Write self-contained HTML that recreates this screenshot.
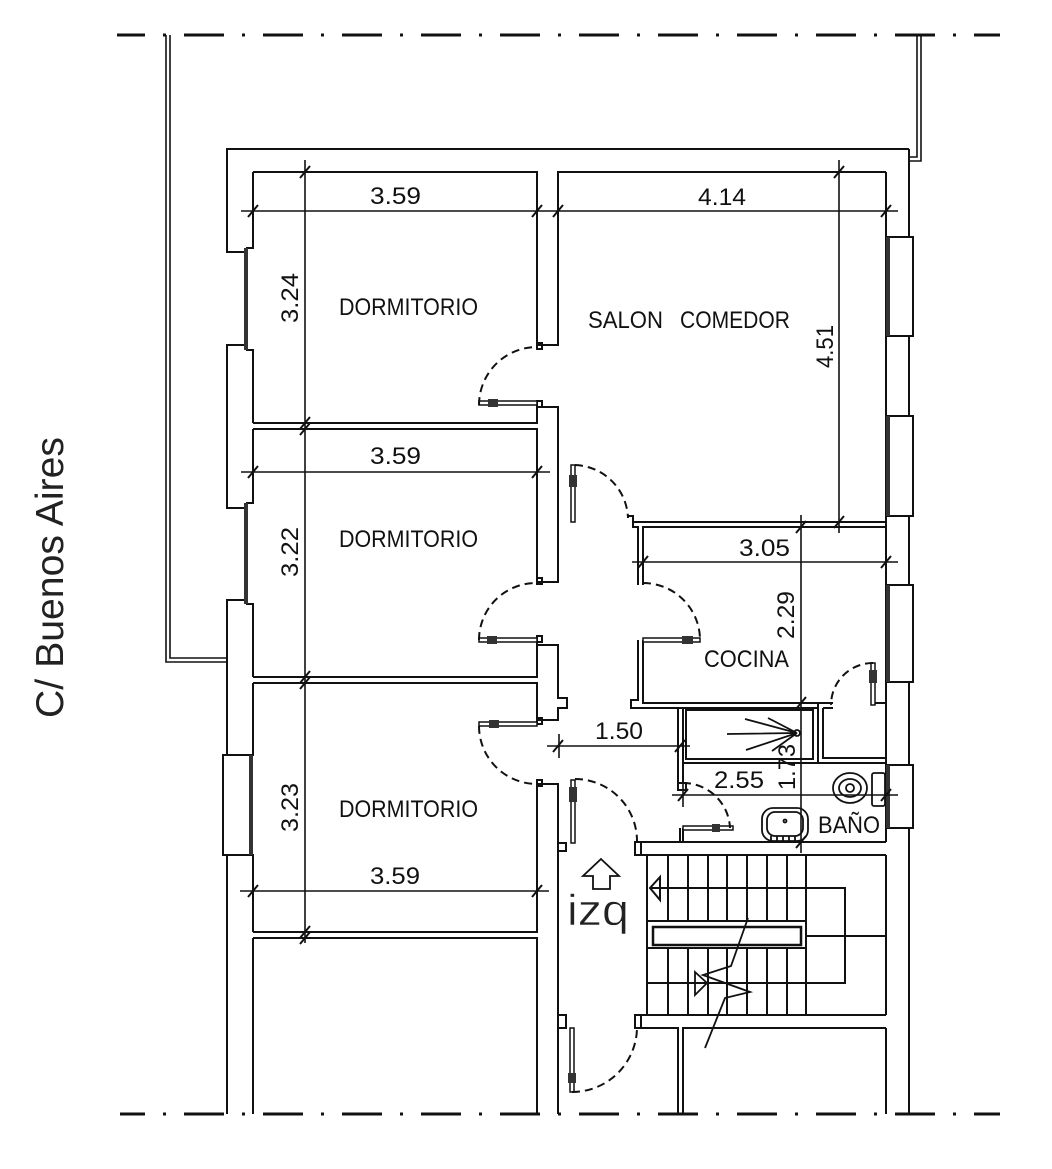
<!DOCTYPE html>
<html><head><meta charset="utf-8"><style>
html,body{margin:0;padding:0;background:#fff;}
svg{display:block;}
text{font-family:"Liberation Sans",Arial,sans-serif;fill:#111;}
</style></head><body>
<svg width="1052" height="1169" viewBox="0 0 1052 1169" xmlns="http://www.w3.org/2000/svg">
<rect width="1052" height="1169" fill="#fff"/>

<g stroke="#111" stroke-width="3" fill="none">
<line x1="117" y1="35" x2="1000" y2="35" stroke-dasharray="40 18 3 18" stroke-dashoffset="12"/>
<line x1="120" y1="1114" x2="1000" y2="1114" stroke-dasharray="40 18 3 18" stroke-dashoffset="15"/>
</g>

<g stroke="#111" stroke-width="1.6" fill="none">
<path d="M166,35 V662 H227 M170,35 V658 H227"/>
<path d="M921,35 V161 H909 M917,35 V157 H909"/>
</g>

<g stroke="#111" stroke-width="2" fill="none" stroke-linejoin="miter">
<path d="M244,252 H227 V149 H909"/>
<path d="M244,345 H227 V508 H244"/>
<path d="M244,600 H227 V755"/>
<path d="M227,855 V1114"/>
<rect x="223" y="755" width="27" height="100"/>
<path d="M909,149 V237 H913 V336 H909 V416 H913 V516 H909 V585 H913 V682 H909 V765 H913 V828 H909 V1114"/>
<path d="M886,237 H913 M886,336 H913 M886,416 H913 M886,516 H913 M886,585 H913 M886,682 H913 M886,765 H913 M886,828 H913"/>
<path d="M253,172 V248 H246 M246,350 H253 V423 M253,429 V503 H246 M246,604 H253 V677 M253,683 V755 H250 M250,855 H253 V932 M253,938 V1114"/>
<path d="M886,172 V842 M886,855 V1015 M886,1028 V1114"/>
<path d="M253,172 H537 V345 H558 V172 H886"/>
<path d="M537,407 V423 H253"/>
<path d="M537,407 H558 V582 H537"/>
<path d="M253,429 H537 V583"/>
<path d="M537,640 V677 H253"/>
<path d="M537,645 H558 V698 H567 V708 H558 V720 H537"/>
<path d="M253,683 H537 V722"/>
<path d="M537,784 V932 H253"/>
<path d="M537,784 H558 V1114"/>
<path d="M253,938 H537 V1114"/>
<path d="M628,516 H633 V522 H886"/>
<path d="M633,522 V527 H638 V585"/>
<path d="M643,585 V527 H886"/>
<path d="M638,640 V700 H631 V708 H678 V783"/>
<path d="M643,640 V703 H833"/>
<path d="M873,703 H886"/>
<path d="M683,708 V783"/>
<path d="M678,708 H818 V763"/>
<path d="M818,703 V708"/>
<rect x="686" y="710" width="127" height="49"/>
<path d="M823,708 V758 H886"/>
<path d="M823,708 H833"/>
<path d="M683,763 H886"/>
<rect x="678" y="783" width="8" height="7"/>
<path d="M680,828 V842 M683,828 V842"/>
<path d="M637,842 H886"/>
<path d="M640,855 H886"/>
<path d="M647,855 V1015"/>
<path d="M640,1015 H886"/>
<path d="M640,1028 H678 V1114"/>
<path d="M683,1114 V1028 H886"/>
<rect x="635" y="842" width="6" height="13"/>
<rect x="635" y="1015" width="6" height="13"/>
<rect x="558" y="1015" width="8" height="13"/>
<rect x="558" y="843" width="8" height="8"/>
<rect x="537" y="343" width="5" height="6"/>
<rect x="537" y="401" width="5" height="6"/>
<rect x="537" y="578" width="5" height="6"/>
<rect x="537" y="636" width="5" height="6"/>
<rect x="537" y="718" width="5" height="6"/>
<rect x="537" y="780" width="5" height="6"/>
</g>

<g fill="#333">
<rect x="244" y="248" width="4" height="102"/>
<rect x="244" y="503" width="4" height="101"/>
<rect x="249" y="755" width="4" height="100"/>
<rect x="886" y="237" width="4" height="99"/>
<rect x="886" y="416" width="4" height="100"/>
<rect x="886" y="585" width="4" height="97"/>
<rect x="886" y="765" width="4" height="63"/>
</g>

<g stroke="#111" stroke-width="2" fill="none">
<path d="M668,855 V921 M688,855 V921 M708,855 V921 M727,855 V921 M747,855 V921 M767,855 V921 M787,855 V921"/>
<path d="M668,948 V1015 M688,948 V1015 M708,948 V1015 M727,948 V1015 M747,948 V1015 M767,948 V1015 M787,948 V1015"/>
<path d="M806,855 V1015"/>
<path d="M650,888 H845 V983 H647"/>
<path d="M647,921 H806 M647,948 H806 M806,936 H886"/>
<rect x="653" y="927" width="148" height="18" stroke-width="2.5"/>
<path d="M660,877 L650,888 L660,900 Z"/>
<path d="M748,918 L731,966 L703,975 L750,992 L725,998 L705,1048" stroke-width="1.8"/>
<path d="M695,972 L695,995 L707,983 Z" stroke-width="1.8"/>
</g>

<g stroke="#111" stroke-width="1.5" fill="#fff">
<rect x="479" y="401" width="58" height="4"/>
<rect x="479" y="638" width="58" height="4"/>
<rect x="479" y="722" width="58" height="4"/>
<rect x="571" y="465" width="4" height="57"/>
<rect x="643" y="638" width="57" height="4"/>
<rect x="871" y="663" width="4" height="42"/>
<rect x="683" y="826" width="50" height="4"/>
<rect x="571" y="780" width="4" height="63"/>
<rect x="570" y="1028" width="4" height="64"/>
</g>
<g fill="#333">
<rect x="488" y="399" width="10" height="8"/>
<rect x="487" y="636" width="10" height="8"/>
<rect x="489" y="720" width="10" height="8"/>
<rect x="569" y="475" width="8" height="12"/>
<rect x="682" y="636" width="11" height="8"/>
<rect x="869" y="670" width="8" height="13"/>
<rect x="712" y="824" width="8" height="8"/>
<rect x="569" y="787" width="8" height="15"/>
<rect x="568" y="1073" width="8" height="10"/>
</g>

<g stroke="#111" stroke-width="2" fill="none" stroke-dasharray="8 5">
<path d="M479,405 A58,58 0 0 1 537,347"/>
<path d="M479,640 A57,57 0 0 1 536,583"/>
<path d="M479,726 A58,58 0 0 0 537,784"/>
<path d="M575,465 A55,55 0 0 1 628,518"/>
<path d="M643,583 A57,57 0 0 1 700,640"/>
<path d="M873,663 A42,42 0 0 0 831,705"/>
<path d="M683,783 A47,47 0 0 1 730,828"/>
<path d="M575,779 A62,62 0 0 1 637,841"/>
<path d="M572,1092 A65,65 0 0 0 637,1027"/>
</g>

<g stroke="#111" stroke-width="1.8" fill="none">
<path d="M797,733 L727,734 M797,733 L745,719 M797,733 L768,718 M797,733 L746,750 M797,733 L772,751"/>
<circle cx="797" cy="733" r="3"/>
<ellipse cx="850" cy="788" rx="17" ry="15"/>
<ellipse cx="850" cy="788" rx="11" ry="9"/>
<circle cx="850" cy="788" r="4"/>
<rect x="872" y="773" width="13" height="33" rx="2"/>
<rect x="762" y="808" width="46" height="33" rx="11"/>
<rect x="767" y="812" width="36" height="24" rx="8"/>
<circle cx="785" cy="821" r="1.5"/>
<path d="M771,836 V841 M777,836 V841 M783,836 V841 M789,836 V841 M795,836 V841"/>
<path d="M601,859 L619,876 L610,876 L610,889 L593,889 L593,876 L583,876 Z"/>
</g>

<g stroke="#111" stroke-width="1.6" fill="none">
<path d="M241,211 H898"/>
<path d="M305,160 V943"/>
<path d="M839,160 V533"/>
<path d="M241,472 H550"/>
<path d="M240,891 H549"/>
<path d="M632,562 H898"/>
<path d="M801,515 V853"/>
<path d="M547,746 H690"/>
<path d="M559,734 V758"/>
<path d="M672,795 H898"/>
<path d="M683,783 V807"/>
</g>
<g stroke="#111" stroke-width="2" fill="none">
<path d="M248,217 L258,205 M532,217 L542,205 M553,217 L563,205 M881,217 L891,205"/>
<path d="M300,178 L310,166 M300,429 L310,417 M300,435 L310,423 M300,683 L310,671 M300,689 L310,677 M300,938 L310,926 M300,944 L310,932"/>
<path d="M834,178 L844,166 M834,528 L844,516"/>
<path d="M248,478 L258,466 M532,478 L542,466"/>
<path d="M248,897 L258,885 M532,897 L542,885"/>
<path d="M638,568 L648,556 M881,568 L891,556"/>
<path d="M796,533 L806,521 M796,709 L806,697 M796,848 L806,836"/>
<path d="M553,752 L563,740 M675,752 L685,740"/>
<path d="M678,801 L688,789 M881,801 L891,789"/>
</g>

<g font-size="24">
<text x="370" y="204" textLength="51" lengthAdjust="spacingAndGlyphs">3.59</text>
<text x="698" y="205" textLength="48" lengthAdjust="spacingAndGlyphs">4.14</text>
<text x="339" y="315" textLength="139" lengthAdjust="spacingAndGlyphs">DORMITORIO</text>
<text x="588" y="328" textLength="75" lengthAdjust="spacingAndGlyphs">SALON</text>
<text x="680" y="328" textLength="110" lengthAdjust="spacingAndGlyphs">COMEDOR</text>
<text x="370" y="464" textLength="51" lengthAdjust="spacingAndGlyphs">3.59</text>
<text x="339" y="547" textLength="139" lengthAdjust="spacingAndGlyphs">DORMITORIO</text>
<text x="339" y="817" textLength="139" lengthAdjust="spacingAndGlyphs">DORMITORIO</text>
<text x="370" y="884" textLength="50" lengthAdjust="spacingAndGlyphs">3.59</text>
<text x="739" y="556" textLength="51" lengthAdjust="spacingAndGlyphs">3.05</text>
<text x="704" y="667" textLength="85" lengthAdjust="spacingAndGlyphs">COCINA</text>
<text x="595" y="739" textLength="48" lengthAdjust="spacingAndGlyphs">1.50</text>
<text x="714" y="788" textLength="50" lengthAdjust="spacingAndGlyphs">2.55</text>
<text x="818" y="833" textLength="62" lengthAdjust="spacingAndGlyphs">BAÑO</text>
<text transform="translate(298,323) rotate(-90)" textLength="50" lengthAdjust="spacingAndGlyphs">3.24</text>
<text transform="translate(298,577) rotate(-90)" textLength="50" lengthAdjust="spacingAndGlyphs">3.22</text>
<text transform="translate(298,832) rotate(-90)" textLength="49" lengthAdjust="spacingAndGlyphs">3.23</text>
<text transform="translate(833,368) rotate(-90)" textLength="43" lengthAdjust="spacingAndGlyphs">4.51</text>
<text transform="translate(794,639) rotate(-90)" textLength="48" lengthAdjust="spacingAndGlyphs">2.29</text>
<text transform="translate(795,790) rotate(-90)" textLength="46" lengthAdjust="spacingAndGlyphs">1.73</text>
</g>
<text x="567" y="925" font-size="44" textLength="62" lengthAdjust="spacingAndGlyphs" style="fill:#222;stroke:#fff;stroke-width:0.6">izq</text>
<text transform="translate(63,718) rotate(-90)" font-size="39" textLength="281" lengthAdjust="spacingAndGlyphs" style="fill:#222">C/ Buenos Aires</text>
</svg>
</body></html>
